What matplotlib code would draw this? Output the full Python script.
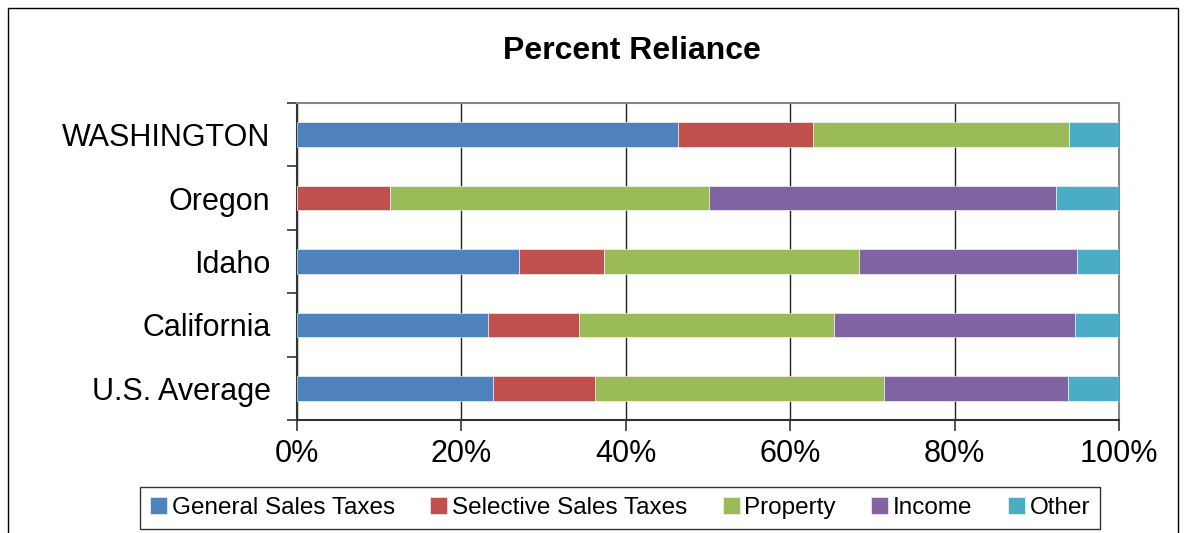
import matplotlib
matplotlib.use("Agg")
import matplotlib.pyplot as plt
from matplotlib.patches import Rectangle

plt.rcParams['font.family'] = ['Liberation Sans', 'DejaVu Sans']

# categories listed bottom to top
states = ["U.S. Average", "California", "Idaho", "Oregon", "WASHINGTON"]
general_sales = [23.8, 23.2, 27.0, 0.0, 46.3]
selective_sales = [12.5, 11.1, 10.3, 11.3, 16.5]
property_tax = [35.1, 31.0, 31.1, 38.8, 31.1]
income = [22.4, 29.3, 26.5, 42.2, 0.0]
other = [6.2, 5.4, 5.1, 7.7, 6.1]

series = [
    ("General Sales Taxes", general_sales, "#4F81BD"),
    ("Selective Sales Taxes", selective_sales, "#C0504D"),
    ("Property", property_tax, "#9BBB59"),
    ("Income", income, "#8064A2"),
    ("Other", other, "#4BACC6"),
]

fig = plt.figure(figsize=(11.86, 5.33), dpi=100)
ax = fig.add_axes([297 / 1186, 1 - 420 / 533, 822 / 1186, 317 / 533])

# outer chart border (bottom edge falls off the picture)
fig.patches.append(Rectangle((8 / 1186, -0.1), 1170 / 1186, 1.1 - 8 / 533,
                             transform=fig.transFigure, fill=False,
                             edgecolor="#000000", linewidth=1.0))

ypos = list(range(len(states)))
left = [0.0] * len(states)
for name, vals, col in series:
    ax.barh(ypos, vals, left=left, height=0.39, color=col, label=name,
            edgecolor="white", linewidth=0.4, zorder=3)
    left = [a + b for a, b in zip(left, vals)]

ax.set_xlim(0, 100)
ax.set_ylim(-0.5, len(states) - 0.5)
ax.set_xticks([0, 20, 40, 60, 80, 100])
ax.set_xticklabels(["0%", "20%", "40%", "60%", "80%", "100%"], fontsize=22)
ax.set_yticks(ypos)
ax.set_yticklabels(states, fontsize=22)
ax.set_yticks([i - 0.5 for i in range(len(states) + 1)], minor=True)
ax.tick_params(axis="y", which="major", length=0, pad=19)
ax.tick_params(axis="y", which="minor", length=7, width=1.2, color="#333333")
ax.tick_params(axis="x", which="major", length=8, width=1.2, color="#333333", pad=6)

ax.grid(axis="x", color="#222222", linewidth=1.0, zorder=0)
for side in ["top", "right"]:
    ax.spines[side].set_color("#868686")
    ax.spines[side].set_linewidth(1.5)
for side in ["left", "bottom"]:
    ax.spines[side].set_color("#333333")
    ax.spines[side].set_linewidth(1.5)

fig.text(632 / 1186, 1 - 51 / 533, "Percent Reliance", ha="center", va="center",
         fontsize=23, fontweight="bold")

leg = fig.legend(loc="center", bbox_to_anchor=(620 / 1186, 1 - 508 / 533), ncol=5,
                 fontsize=17.5, frameon=True, fancybox=False, handlelength=0.7,
                 handleheight=0.7, handletextpad=0.2, columnspacing=1.45,
                 borderpad=0.4)
leg.get_frame().set_edgecolor("#000000")
leg.get_frame().set_linewidth(1.0)

fig.savefig("out.png", dpi=100)
